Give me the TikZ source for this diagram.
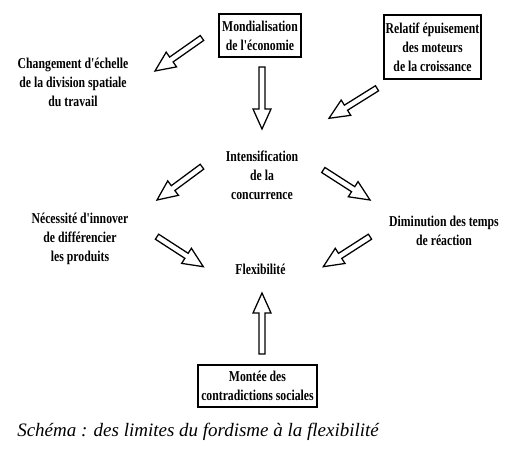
\documentclass[tikz,border=0pt]{standalone}
\usepackage{fontspec}
\setmainfont{Liberation Serif}
\newfontfamily\condserif{Liberation Serif}[FakeStretch=0.78]
\usetikzlibrary{calc}

\begin{document}
\begin{tikzpicture}[x=0.025cm, y=-0.025cm, every node/.style={font=\condserif\bfseries\fontsize{10.7}{13.5}\selectfont}]
    % Styles
    \tikzstyle{factor} = [rectangle, draw=black, line width=1.4pt, align=center, inner sep=1pt]
    \tikzstyle{effect} = [align=center, inner sep=0pt]
    \tikzstyle{blockarrow} = [draw=black, line width=0.9pt, fill=white, line join=miter,
        to path={($(\tikztostart)!0.075cm!90:(\tikztotarget)$)
            -- ($(\tikztotarget)!0.5056cm!-8.53:(\tikztostart)$)
            -- ($(\tikztotarget)!0.548cm!-24.23:(\tikztostart)$)
            -- (\tikztotarget)
            -- ($(\tikztotarget)!0.548cm!24.23:(\tikztostart)$)
            -- ($(\tikztotarget)!0.5056cm!8.53:(\tikztostart)$)
            -- ($(\tikztostart)!0.075cm!-90:(\tikztotarget)$) -- cycle}]
    \tikzstyle{schemacaption} = [anchor=base west, inner sep=0pt, font=\normalfont\itshape\fontsize{13.5}{16}\selectfont]

    \useasboundingbox (0,0) rectangle (520,459);

    % Nodes
    \node (mondial)  [factor, minimum width=2.05cm, minimum height=1.075cm] at (260,35.5) {Mondialisation\\de l'économie};
    \node (relatif)  [factor, minimum width=2.425cm, minimum height=1.6cm] at (432.5,47) {Relatif épuisement\\des moteurs\\de la croissance};
    \node (echelle)  [effect] at (73,82) {Changement d'échelle\\de la division spatiale\\du travail};
    \node (intens)   [effect] at (262,175) {Intensification\\de la\\concurrence};
    \node (innover)  [effect] at (80,239) {Nécessité d'innover\\de différencier\\les produits};
    \node (reaction) [effect] at (444,231) {Diminution des temps\\de réaction};
    \node (flex)     [effect] at (260.5,269) {Flexibilité};
    \node (social)   [factor, minimum width=2.975cm, minimum height=1.05cm] at (257.5,386) {Montée des\\contradictions sociales};

    % Arrows
    \draw [blockarrow] ($(mondial)+(-58,2.5)$) to ($(echelle)+(82,-11)$);
    \draw [blockarrow] ($(mondial.south)+(2,9)$) to ($(intens)+(0,-46)$);
    \draw [blockarrow] ($(relatif)+(-55.5,41.3)$) to ($(intens)+(67,-56.7)$);
    \draw [blockarrow] ($(intens)+(-60,-8.3)$) to ($(innover)+(77,-39)$);
    \draw [blockarrow] ($(intens)+(61.3,-5)$) to ($(reaction)+(-74,-31)$);
    \draw [blockarrow] ($(innover)+(77,-2.3)$) to ($(flex)+(-57.2,-2.3)$);
    \draw [blockarrow] ($(reaction)+(-74,5.7)$) to ($(flex)+(62.8,-2.3)$);
    \draw [blockarrow] ($(social.north)+(4.5,-10)$) to ($(flex)+(1.5,24)$);

    % Caption
    \node (schema) [schemacaption] at (17,436) {Schéma : des limites du fordisme à la flexibilité};
\end{tikzpicture}
\end{document}
